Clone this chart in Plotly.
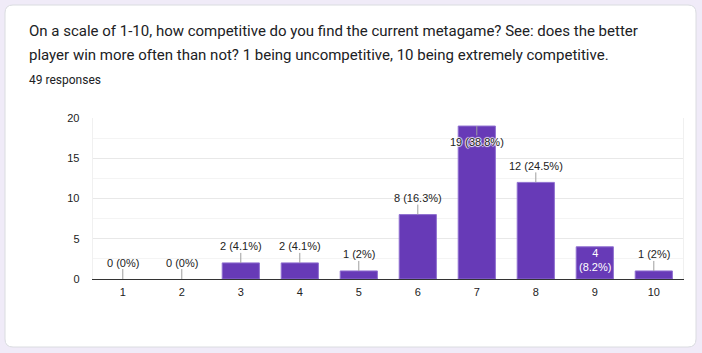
import plotly.graph_objects as go

categories = [1, 2, 3, 4, 5, 6, 7, 8, 9, 10]
counts = [0, 0, 2, 2, 1, 8, 19, 12, 4, 1]
total_responses = 49
title_lines = [
    "On a scale of 1-10, how competitive do you find the current metagame? See: does the better",
    "player win more often than not? 1 being uncompetitive, 10 being extremely competitive.",
]
subtitle = "49 responses"
y_ticks = [0, 5, 10, 15, 20]

W, H = 702, 353
BAR = "#673ab7"
BG = "#f0ebf8"
LABEL_FONT = dict(family="Arial, Liberation Sans, sans-serif", size=11, color="#222222")


def px_x(p):
    return p / W


def px_y(p):
    return 1 - p / H


def pct(c):
    v = round(c * 100 / total_responses, 1)
    return f"{v:g}%"


fig = go.Figure(
    go.Bar(
        x=categories,
        y=counts,
        marker=dict(color=BAR, line=dict(color="#8f6fd0",
                                         width=[1 if c > 0 else 0 for c in counts])),
        hoverinfo="skip",
    )
)

annotations = []
halo = "1px 0 1px #fff, -1px 0 1px #fff, 0 1px 1px #fff, 0 -1px 1px #fff"
for x, c in zip(categories, counts):
    label = f"{c} ({pct(c)})"
    if c >= 18:
        annotations.append(dict(
            x=x, y=c, xref="x", yref="y", text=label, showarrow=True,
            arrowhead=0, arrowwidth=1, arrowcolor="#9e9e9e", ax=0, ay=16,
            borderpad=0, font=dict(LABEL_FONT, shadow=halo),
        ))
    elif x == 9:
        annotations.append(dict(
            x=x, y=c, xref="x", yref="y", text=f"{c}<br>({pct(c)})", showarrow=False,
            yanchor="middle", yshift=-13.5, borderpad=0,
            font=dict(LABEL_FONT, color="#ffffff"),
        ))
    else:
        annotations.append(dict(
            x=x, y=c, xref="x", yref="y", text=label, showarrow=True,
            arrowhead=0, arrowwidth=1, arrowcolor="#9e9e9e", ax=0, ay=-16.5,
            borderpad=0, font=LABEL_FONT,
        ))

title_font = dict(family="Roboto, Noto Sans, sans-serif", size=15, color="#202124")
for i, line in enumerate(title_lines):
    annotations.append(dict(
        x=px_x(27), y=px_y(31 + 24 * i), xref="paper", yref="paper",
        xanchor="left", yanchor="middle", text=line, showarrow=False,
        font=title_font,
    ))
annotations.append(dict(
    x=px_x(27), y=px_y(80), xref="paper", yref="paper",
    xanchor="left", yanchor="middle", text=subtitle, showarrow=False,
    font=dict(family="Roboto, Noto Sans, sans-serif", size=12, color="#202124"),
))

# card with rounded corners
x0, y0, x1, y1, r = 5, 5, 696, 347, 8
path = (
    f"M {px_x(x0 + r)},{px_y(y0)} L {px_x(x1 - r)},{px_y(y0)} "
    f"Q {px_x(x1)},{px_y(y0)} {px_x(x1)},{px_y(y0 + r)} "
    f"L {px_x(x1)},{px_y(y1 - r)} Q {px_x(x1)},{px_y(y1)} {px_x(x1 - r)},{px_y(y1)} "
    f"L {px_x(x0 + r)},{px_y(y1)} Q {px_x(x0)},{px_y(y1)} {px_x(x0)},{px_y(y1 - r)} "
    f"L {px_x(x0)},{px_y(y0 + r)} Q {px_x(x0)},{px_y(y0)} {px_x(x0 + r)},{px_y(y0)} Z"
)
shapes = [dict(type="path", path=path, xref="paper", yref="paper",
               fillcolor="#ffffff", line=dict(color="#dadce0", width=1), layer="below")]

fig.update_layout(
    width=W, height=H, autosize=False,
    margin=dict(l=0, r=0, t=0, b=0, pad=0, autoexpand=False),
    paper_bgcolor=BG,
    plot_bgcolor="rgba(0,0,0,0)",
    showlegend=False,
    bargap=0.37,
    annotations=annotations,
    shapes=shapes,
    xaxis=dict(
        domain=[px_x(92.7), px_x(683.3)],
        range=[0.49, 10.5],
        tickvals=categories, ticktext=[str(c) for c in categories],
        showgrid=False, zeroline=False,
        showline=True, linecolor="#333333", linewidth=1,
        ticks="", tickfont=LABEL_FONT, ticklabelstandoff=3,
        automargin=False, fixedrange=True,
    ),
    yaxis=dict(
        domain=[px_y(279), px_y(118)],
        range=[0, 20],
        tickvals=y_ticks,
        showgrid=True, gridcolor="#e8e8e8", gridwidth=1,
        minor=dict(dtick=2.5, showgrid=True, gridcolor="#f4f4f4", gridwidth=1),
        zeroline=False,
        showline=True, linecolor="#f0f0f0", linewidth=1, mirror=True,
        ticks="", tickfont=LABEL_FONT, ticklabelstandoff=10,
        automargin=False, fixedrange=True,
    ),
)

page_style = (
    "document.body.style.margin='0';"
    f"document.body.style.background='{BG}';"
)
fig.write_html("out.html", config={"displayModeBar": False}, post_script=page_style)
